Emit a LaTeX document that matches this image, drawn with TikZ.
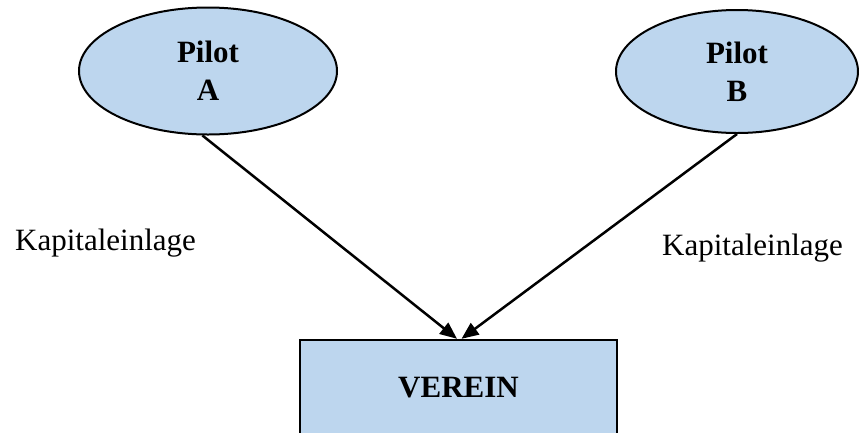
\documentclass[tikz,border=0pt]{standalone}
\usepackage{fontspec}
\setmainfont{Liberation Serif}
\usetikzlibrary{shapes.geometric,arrows.meta}
\definecolor{boxblue}{RGB}{189,214,238}
\begin{document}
\begin{tikzpicture}[x=1pt,y=-1pt,
  pilot/.style={ellipse,draw=black,line width=2pt,fill=boxblue,inner sep=0pt,
    align=center,font=\fontsize{31}{38}\selectfont\bfseries},
  club/.style={rectangle,draw=black,line width=2.4pt,fill=boxblue,inner sep=0pt,
    font=\fontsize{31}{38}\selectfont\bfseries},
  label/.style={font=\fontsize{31}{38}\selectfont,inner sep=0pt},
  flow/.style={line width=2.5pt,-{Triangle[length=17pt,width=14pt]}}]
  \useasboundingbox (0,0) rectangle (859,432);
  \clip (0,0) rectangle (859,432);

  % the two founding pilots
  \node[pilot,minimum width=258,minimum height=127] (a) at (208,71) {Pilot\\A};
  \node[pilot,minimum width=242,minimum height=123] (b) at (737,71.5) {Pilot\\B};

  % the club, running past the lower edge
  \node[club,minimum width=317,minimum height=96] (v) at (458.5,388) {VEREIN};

  % capital contributions
  \node[label,anchor=base west] (la) at (15,250) {Kapitaleinlage};
  \node[label,anchor=base west] (lb) at (662,255) {Kapitaleinlage};

  \coordinate (ta) at ([xshift=-1.5pt]v.north);
  \coordinate (tb) at ([xshift=3pt]v.north);
  \draw[flow] (a.265) -- (ta);
  \draw[flow] (b.270) -- (tb);
\end{tikzpicture}
\end{document}
